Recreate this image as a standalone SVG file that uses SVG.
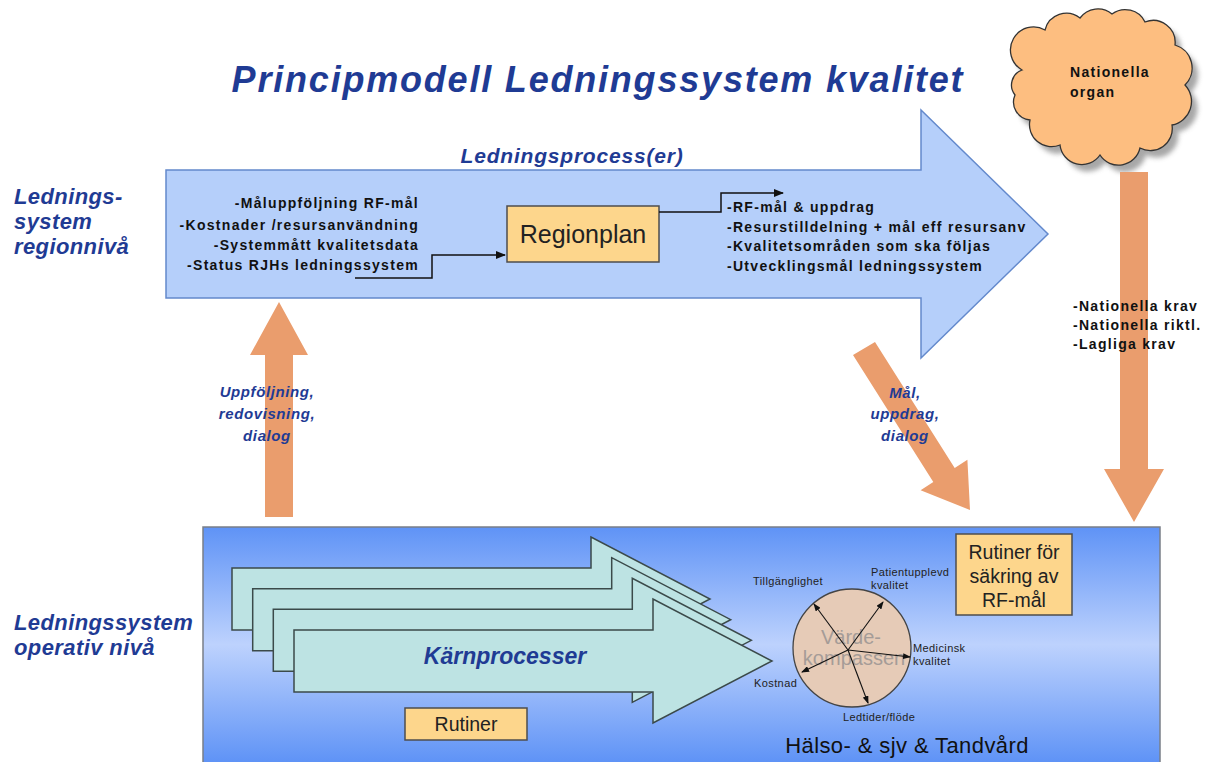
<svg xmlns="http://www.w3.org/2000/svg" width="1206" height="762" viewBox="0 0 1206 762">
<defs>
<style>
.ttl{font-family:"Liberation Sans",Arial,sans-serif;font-weight:bold;font-style:italic;fill:#1f3b94}
.lst{font-family:"Liberation Sans",Arial,sans-serif;font-weight:bold;font-size:14px;fill:#111;letter-spacing:1.3px}
.box{fill:#fdd68c;stroke:#4d4d4d;stroke-width:1.5}
.bt{font-family:"Liberation Sans",Arial,sans-serif;fill:#222;text-anchor:middle}
.ora{fill:#ea9d6d}
.kp{fill:#bde3e3;stroke:#3b4a4a;stroke-width:1.5}
.sm{font-family:"Liberation Sans",Arial,sans-serif;font-size:11px;fill:#222;letter-spacing:0.4px}
.conn{fill:none;stroke:#111;stroke-width:1.5}
.carr{fill:none;stroke:#111;stroke-width:1.1}
</style>
<marker id="ah" markerWidth="10" markerHeight="8" refX="9" refY="4" orient="auto" markerUnits="userSpaceOnUse">
<path d="M0,0 L10,4 L0,8 z" fill="#111"/>
</marker>
<marker id="sah" markerWidth="8" markerHeight="6" refX="7" refY="3" orient="auto" markerUnits="userSpaceOnUse">
<path d="M0,0 L8,3 L0,6 z" fill="#111"/>
</marker>
<linearGradient id="bg" x1="0" y1="527" x2="0" y2="762" gradientUnits="userSpaceOnUse">
<stop offset="0" stop-color="#5f93f6"/>
<stop offset="0.5" stop-color="#bdd2fd"/>
<stop offset="1" stop-color="#5f93f6"/>
</linearGradient>
<filter id="blur" x="-10%" y="-10%" width="120%" height="120%"><feGaussianBlur stdDeviation="2.5"/></filter>
</defs>
<rect width="1206" height="762" fill="#ffffff"/>

<text class="ttl" x="598" y="92" font-size="36" letter-spacing="1.8" text-anchor="middle">Principmodell Ledningssystem kvalitet</text>

<g id="label-regionniva">
<text class="ttl" font-size="22" letter-spacing="0.4" x="14" y="204">Lednings-</text>
<text class="ttl" font-size="22" letter-spacing="0.4" x="14" y="229">system</text>
<text class="ttl" font-size="22" letter-spacing="0.4" x="14" y="254">regionnivå</text>
</g>
<g id="label-operativ">
<text class="ttl" font-size="22" letter-spacing="0.4" x="14" y="630">Ledningssystem</text>
<text class="ttl" font-size="22" letter-spacing="0.4" x="14" y="655">operativ nivå</text>
</g>

<g id="ledningsprocess">
<path d="M166,170 L921,170 L921,110 L1048,234 L921,358 L921,298 L166,298 Z" fill="#b5cffa" stroke="#6389cc" stroke-width="1.5"/>
<text class="ttl" font-size="21" letter-spacing="0.8" x="572" y="163" text-anchor="middle">Ledningsprocess(er)</text>
<g text-anchor="end">
<text class="lst" x="419" y="208">-Måluppföljning RF-mål</text>
<text class="lst" x="419" y="230">-Kostnader /resursanvändning</text>
<text class="lst" x="419" y="250">-Systemmått kvalitetsdata</text>
<text class="lst" x="419" y="270">-Status RJHs ledningssystem</text>
</g>
<text class="lst" x="727" y="212">-RF-mål &amp; uppdrag</text>
<text class="lst" x="727" y="232">-Resurstilldelning + mål eff resursanv</text>
<text class="lst" x="727" y="251">-Kvalitetsområden som ska följas</text>
<text class="lst" x="727" y="271">-Utvecklingsmål ledningssystem</text>
</g>

<g id="regionplan">
<rect class="box" x="507" y="206" width="152" height="56"/>
<text class="bt" x="583" y="243" font-size="25">Regionplan</text>
</g>

<g id="nationella-organ">
<path transform="translate(6,7)" filter="url(#blur)" fill="#8a8a8a" opacity="0.75" d="M1022,70 A22,22 0 0 1 1045,30 A22,22 0 0 1 1080,18 A22,22 0 0 1 1112,14 A22,22 0 0 1 1145,22 A22,22 0 0 1 1175,45 A24,24 0 0 1 1185,85 A24,24 0 0 1 1172,125 A22,22 0 0 1 1140,148 A22,22 0 0 1 1100,155 A22,22 0 0 1 1060,145 A22,22 0 0 1 1030,120 A18,18 0 0 1 1015,95 A16,16 0 0 1 1022,70 Z"/>
<path fill="#fdbe80" stroke="#333" stroke-width="1.3" d="M1022,70 A22,22 0 0 1 1045,30 A22,22 0 0 1 1080,18 A22,22 0 0 1 1112,14 A22,22 0 0 1 1145,22 A22,22 0 0 1 1175,45 A24,24 0 0 1 1185,85 A24,24 0 0 1 1172,125 A22,22 0 0 1 1140,148 A22,22 0 0 1 1100,155 A22,22 0 0 1 1060,145 A22,22 0 0 1 1030,120 A18,18 0 0 1 1015,95 A16,16 0 0 1 1022,70 Z"/>
<text class="lst" x="1070" y="77" font-size="13.5" letter-spacing="1.8">Nationella</text>
<text class="lst" x="1070" y="97" font-size="13.5" letter-spacing="1.8">organ</text>
</g>

<g id="operativ">
<rect x="203" y="527" width="957" height="240" fill="url(#bg)" stroke="#7a7f88" stroke-width="1.5"/>
<g id="karnprocesser">
<path class="kp" d="M232,568 L591,568 L591,537 L710,599 L591,661 L591,630 L232,630 Z"/>
<path class="kp" transform="translate(20.7,20.7)" d="M232,568 L591,568 L591,537 L710,599 L591,661 L591,630 L232,630 Z"/>
<path class="kp" transform="translate(41.3,41.3)" d="M232,568 L591,568 L591,537 L710,599 L591,661 L591,630 L232,630 Z"/>
<path class="kp" transform="translate(62,62)" d="M232,568 L591,568 L591,537 L710,599 L591,661 L591,630 L232,630 Z"/>
<text class="ttl" font-size="23" x="505" y="664" text-anchor="middle">Kärnprocesser</text>
</g>
<g id="rutiner">
<rect class="box" x="405" y="708" width="122" height="32"/>
<text class="bt" x="466" y="731" font-size="19.5">Rutiner</text>
</g>
<g id="rutiner-for">
<rect class="box" x="956" y="534" width="116" height="81"/>
<text class="bt" x="1014" y="559" font-size="19.5">Rutiner för</text>
<text class="bt" x="1014" y="583" font-size="19.5">säkring av</text>
<text class="bt" x="1014" y="607" font-size="19.5">RF-mål</text>
</g>
<g id="vardekompassen">
<circle cx="852" cy="648" r="59" fill="#e6cbb7" stroke="#444" stroke-width="1.3"/>
<text class="bt" x="851" y="644" font-size="20" style="fill:#a59c97">Värde-</text>
<text class="bt" x="854" y="665" font-size="20" style="fill:#a59c97">kompassen</text>
<line class="carr" x1="848" y1="650" x2="814" y2="604" marker-end="url(#sah)"/>
<line class="carr" x1="848" y1="650" x2="883" y2="602" marker-end="url(#sah)"/>
<line class="carr" x1="848" y1="650" x2="910" y2="657" marker-end="url(#sah)"/>
<line class="carr" x1="848" y1="650" x2="802" y2="672" marker-end="url(#sah)"/>
<line class="carr" x1="848" y1="650" x2="868" y2="703" marker-end="url(#sah)"/>
<text class="sm" x="753" y="585">Tillgänglighet</text>
<text class="sm" x="871" y="576">Patientupplevd</text>
<text class="sm" x="871" y="589">kvalitet</text>
<text class="sm" x="913" y="652">Medicinsk</text>
<text class="sm" x="913" y="665">kvalitet</text>
<text class="sm" x="754" y="687">Kostnad</text>
<text class="sm" x="843" y="721">Ledtider/flöde</text>
</g>
<text class="bt" x="907" y="753" font-size="22" letter-spacing="0.4" style="fill:#111">Hälso- &amp; sjv &amp; Tandvård</text>
</g>

<g id="block-arrows">
<path class="ora" d="M265,517 L265,355 L250,355 L279,302 L308,355 L293,355 L293,517 Z"/>
<path class="ora" d="M853,355 L875,342 L954.7,468 L967.4,459.7 L970,510 L920.6,490.3 L933.3,482 Z"/>
<path class="ora" d="M1120,172 L1148,172 L1148,469 L1164,469 L1134,522 L1104,469 L1120,469 Z"/>
</g>

<g id="arrow-labels">
<text class="ttl" font-size="15" letter-spacing="0.6" x="267" y="397" text-anchor="middle">Uppföljning,</text>
<text class="ttl" font-size="15" letter-spacing="0.6" x="267" y="419" text-anchor="middle">redovisning,</text>
<text class="ttl" font-size="15" letter-spacing="0.6" x="267" y="441" text-anchor="middle">dialog</text>
<text class="ttl" font-size="15" letter-spacing="0.6" x="905" y="398" text-anchor="middle">Mål,</text>
<text class="ttl" font-size="15" letter-spacing="0.6" x="905" y="419" text-anchor="middle">uppdrag,</text>
<text class="ttl" font-size="15" letter-spacing="0.6" x="905" y="441" text-anchor="middle">dialog</text>
<text class="lst" font-size="13.5" letter-spacing="1.2" x="1073" y="311">-Nationella krav</text>
<text class="lst" font-size="13.5" letter-spacing="1.2" x="1073" y="330">-Nationella riktl.</text>
<text class="lst" font-size="13.5" letter-spacing="1.2" x="1073" y="349">-Lagliga krav</text>
</g>

<g id="connectors">
<polyline class="conn" points="355,278 432,278 432,255 505,255" marker-end="url(#ah)"/>
<polyline class="conn" points="659,212 721,212 721,193 783,193" marker-end="url(#ah)"/>
</g>
</svg>
